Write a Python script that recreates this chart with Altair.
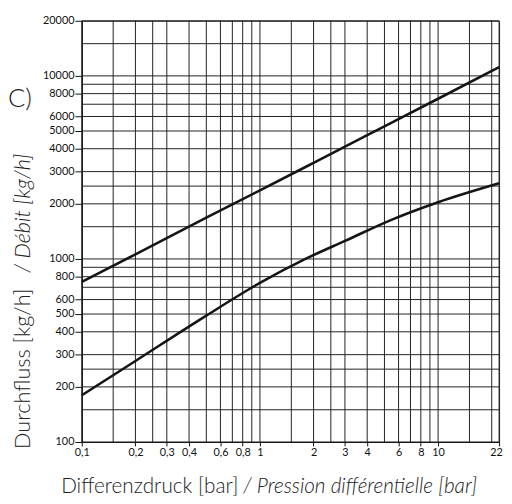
import altair as alt
import pandas as pd

# ---- data ----
upper_dp = [0.1, 0.2, 0.5, 1, 2, 5, 10, 22]
upper_flow = [750, 1060, 1680, 2370, 3350, 5300, 7500, 11150]

lower_dp = [0.1, 0.2, 0.48, 1, 1.8, 3, 5.6, 10, 22]
lower_flow = [180, 277, 478, 740, 1000, 1255, 1650, 2040, 2590]

x_grid = [0.1, 0.15, 0.2, 0.25, 0.3, 0.4, 0.5, 0.6, 0.7, 0.8, 0.9, 1, 1.5, 2, 2.5,
          3, 4, 5, 6, 7, 8, 9, 10, 15, 20, 22]
y_grid = [100, 150, 200, 250, 300, 400, 500, 600, 700, 800, 900, 1000, 1500, 2000,
          2500, 3000, 4000, 5000, 6000, 7000, 8000, 9000, 10000, 15000, 20000]

x_labels = [0.1, 0.2, 0.3, 0.4, 0.6, 0.8, 1, 2, 3, 4, 6, 8, 10, 22]
y_labels = [100, 200, 300, 400, 500, 600, 800, 1000, 2000, 3000, 4000, 5000, 6000,
            8000, 10000, 20000]

curves = pd.concat([
    pd.DataFrame({"dp": upper_dp, "flow": upper_flow, "curve": "A"}),
    pd.DataFrame({"dp": lower_dp, "flow": lower_flow, "curve": "B"}),
])

FONT = "Lato"
xs = alt.Scale(type="log", domain=[0.1, 22], nice=False, zero=False)
ys = alt.Scale(type="log", domain=[100, 20000], nice=False, zero=False)

x_axis = alt.Axis(
    values=x_labels, title=None, grid=False, tickSize=4, tickColor="#111",
    domainColor="#111", labelFont=FONT, labelFontSize=11, labelColor="#111",
    labelPadding=1, labelExpr="replace(format(datum.value, ''), '.', ',')",
    labelOffset=alt.condition("datum.value == 22", alt.value(-3), alt.value(0)),
    labelFlush=False, labelOverlap=False)
y_axis = alt.Axis(
    values=y_labels, title=None, grid=False, tickSize=7, tickColor="#111",
    domainColor="#111", labelFont=FONT, labelFontSize=11, labelColor="#111",
    labelPadding=1, format="d", labelOverlap=False, labelFlush=False)

vgrid = alt.Chart(pd.DataFrame({"dp": x_grid})).mark_rule(
    color="#222", strokeWidth=1
).encode(x=alt.X("dp:Q", scale=xs, axis=x_axis))

hgrid = alt.Chart(pd.DataFrame({"flow": y_grid})).mark_rule(
    color="#222", strokeWidth=1
).encode(y=alt.Y("flow:Q", scale=ys, axis=y_axis))

lines = alt.Chart(curves).mark_line(
    color="#151515", strokeWidth=2.6, interpolate="monotone"
).encode(
    x=alt.X("dp:Q", scale=xs, axis=x_axis),
    y=alt.Y("flow:Q", scale=ys, axis=y_axis),
    detail="curve:N",
)

one = pd.DataFrame({"k": [0]})

def label(text, x, y, angle=0, align="left", italic=False, size=21):
    return alt.Chart(one).mark_text(
        text=text, font=FONT, fontSize=size, fontWeight=300,
        fontStyle="italic" if italic else "normal", color="#222",
        angle=angle, align=align, baseline="alphabetic",
    ).encode(x=alt.value(x), y=alt.value(y))

titles = [
    label("Differenzdruck [bar]", -21, 480),
    label("/ Pression différentielle [bar]", 164, 480, italic=True),
    label("Durchfluss [kg/h]", -53, 435, angle=270, size=22),
    label("/  Débit [kg/h]", -53, 256, angle=270, italic=True, size=22),
    label("C)", -75, 88, size=26),
]

chart = alt.layer(vgrid, hgrid, lines, *titles).properties(
    width=424, height=428,
    padding={"left": 75, "top": 9, "right": 5, "bottom": 58},
    autosize=alt.AutoSizeParams(type="none"),
).configure_view(stroke="#222", strokeWidth=1)

chart.save("out.html", embed_options={"renderer": "svg", "actions": False})
